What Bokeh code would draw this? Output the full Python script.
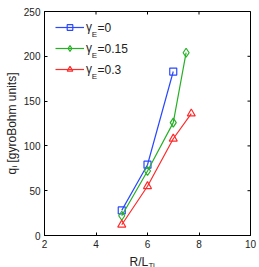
import numpy as np
from bokeh.plotting import figure
from bokeh.models import LinearAxis, Label, Legend, LegendItem, FixedTicker, Range1d
from bokeh.layouts import column, row
from bokeh.embed import file_html
from bokeh.resources import INLINE

# ---- data ----
x_g0 = [5, 6, 7]
y_g0 = [28, 79, 183]
x_g15 = [5, 6, 7, 7.5]
y_g15 = [22, 72, 126, 204]
x_g3 = [5, 6, 7, 7.7]
y_g3 = [12, 55, 108, 136]
series_names = ["0", "0.15", "0.3"]
x_ticks = [2, 4, 6, 8, 10]
y_ticks = [0, 50, 100, 150, 200, 250]

FONT = "Liberation Sans"
TXT = "#222222"
C_BLUE = "#2a48ff"
C_GREEN = "#26b026"
C_RED = "#ff2a2a"

W_YLAB = 20
W_MAIN = 239
H_MAIN = 251
H_XLAB = 16
B_TOP, B_BOTTOM = 11, 16

p = figure(width=W_MAIN, height=H_MAIN, output_backend="svg", toolbar_location=None,
           x_range=Range1d(x_ticks[0], x_ticks[-1]), y_range=Range1d(y_ticks[0], y_ticks[-1]),
           min_border_left=22, min_border_right=9, min_border_top=B_TOP, min_border_bottom=B_BOTTOM,
           x_axis_location=None, y_axis_location=None)
p.xgrid.visible = False
p.ygrid.visible = False
p.outline_line_color = "black"
p.background_fill_color = "white"
p.border_fill_color = "white"

for loc, ticks in [("below", x_ticks), ("left", y_ticks)]:
    ax = LinearAxis(ticker=FixedTicker(ticks=ticks))
    ax.axis_line_color = "black"
    ax.major_tick_line_color = "black"
    ax.major_tick_in = 3
    ax.major_tick_out = 0
    ax.minor_tick_line_color = None
    ax.major_label_text_font = FONT
    ax.major_label_text_color = TXT
    ax.major_label_text_font_size = "10px"
    ax.major_label_standoff = 4
    p.add_layout(ax, loc)

# inner ticks on the top and right edges (half of each dash is clipped by the frame)
p.scatter(x=x_ticks, y=[y_ticks[-1]] * len(x_ticks), marker="dash", angle=np.pi / 2,
          size=6, line_color="black", line_width=1)
p.scatter(x=[x_ticks[-1]] * len(y_ticks), y=y_ticks, marker="dash", angle=0,
          size=6, line_color="black", line_width=1)

# ---- series ----
specs = [
    (x_g0, y_g0, C_BLUE, "square", 7),
    (x_g15, y_g15, C_GREEN, "diamond", 9),
    (x_g3, y_g3, C_RED, "triangle", 8),
]
items = []
for (xs, ys, col, mk, sz) in specs:
    l = p.line(xs, ys, line_color=col, line_width=1.2)
    s = p.scatter(xs, ys, marker=mk, size=sz, line_color=col, fill_alpha=0, line_width=1.2)
    items.append(LegendItem(label="γ", renderers=[l, s]))

leg = Legend(items=items, location=(11, 159), glyph_width=29, glyph_height=14,
             label_height=14, spacing=7, padding=0, border_line_alpha=0,
             background_fill_alpha=0, label_text_font=FONT, label_text_font_size="12px",
             label_text_color=TXT, label_standoff=2)
p.add_layout(leg, "center")

row_y = [208, 187, 166]
for name, yy in zip(series_names, row_y):
    p.add_layout(Label(x=47.3, y=yy - 7, x_units="screen", y_units="screen", text="E",
                       text_font=FONT, text_font_size="8px", text_color=TXT,
                       text_baseline="alphabetic"))
    p.add_layout(Label(x=53, y=yy, x_units="screen", y_units="screen", text="=" + name,
                       text_font=FONT, text_font_size="12px", text_color=TXT,
                       text_baseline="middle"))


def label_fig(w, h, top=0, bottom=0):
    f = figure(width=w, height=h, output_backend="svg", toolbar_location=None,
               x_range=Range1d(0, w), y_range=Range1d(0, h),
               min_border_left=0, min_border_right=0, min_border_top=top, min_border_bottom=bottom,
               x_axis_location=None, y_axis_location=None)
    f.grid.visible = False
    f.outline_line_color = None
    f.background_fill_color = "white"
    f.border_fill_color = "white"
    return f


# y axis label: q_i [gyroBohm units]
ylab = label_fig(W_YLAB, H_MAIN, B_TOP, B_BOTTOM)
ang = np.pi / 2
y0 = 61
bx = 11.5
ylab.add_layout(Label(x=bx, y=y0, x_units="screen", y_units="screen", text="q",
                      text_font=FONT, text_font_size="12px", text_color=TXT,
                      text_baseline="alphabetic", angle=ang))
ylab.add_layout(Label(x=bx + 2.6, y=y0 + 7.0, x_units="screen", y_units="screen", text="i",
                      text_font=FONT, text_font_size="8px", text_color=TXT,
                      text_baseline="alphabetic", angle=ang))
ylab.add_layout(Label(x=bx, y=y0 + 12.0, x_units="screen", y_units="screen",
                      text="[gyroBohm units]",
                      text_font=FONT, text_font_size="12px", text_color=TXT,
                      text_baseline="alphabetic", angle=ang))

# x axis label: R/L_Ti
xlab = label_fig(W_YLAB + W_MAIN, H_XLAB)
xlab.add_layout(Label(x=129, y=5.5, x_units="screen", y_units="screen", text="R/L",
                      text_font=FONT, text_font_size="12px", text_color=TXT,
                      text_baseline="alphabetic"))
xlab.add_layout(Label(x=148, y=2.5, x_units="screen", y_units="screen", text="Ti",
                      text_font=FONT, text_font_size="8px", text_color=TXT,
                      text_baseline="alphabetic"))

layout = column(row(ylab, p), xlab)
open("out.html", "w").write(file_html(layout, INLINE))
